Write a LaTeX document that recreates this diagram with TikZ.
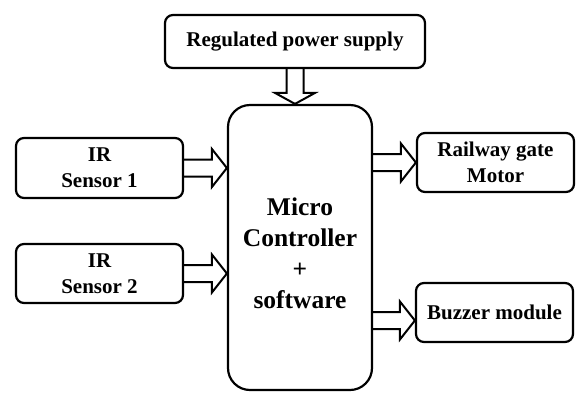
\documentclass[tikz,border=0pt]{standalone}
\usepackage{fontspec}
\setmainfont{Liberation Serif}
\usetikzlibrary{calc}
\tikzset{
  blk/.style={draw, line width=2.2pt, rounded corners=8pt, fill=white, inner sep=0pt,
    align=center, font=\fontsize{21}{26}\selectfont\bfseries},
  mcbox/.style={draw, line width=2.2pt, rounded corners=22pt, fill=white, inner sep=0pt},
  mclabel/.style={align=center, inner sep=0pt, font=\fontsize{25.5}{31}\selectfont\bfseries},
  fatarrow/.style={draw, line width=2pt, line join=miter},
}
% hollow block arrow pointing right, from #1 to the x of #2
\newcommand\rightfat[2]{%
  \draw[fatarrow] let \p1=(#1), \p2=(#2) in
    (\x1,\y1+8.5pt) -- (\x2-15pt,\y1+8.5pt) -- (\x2-15pt,\y1+19pt) -- (\x2,\y1)
    -- (\x2-15pt,\y1-19pt) -- (\x2-15pt,\y1-8.5pt) -- (\x1,\y1-8.5pt);}
% hollow block arrow pointing down, from #1 to the y of #2
\newcommand\downfat[2]{%
  \draw[fatarrow] let \p1=(#1), \p2=(#2) in
    (\x1-8.5pt,\y1) -- (\x1-8.5pt,\y2+11pt) -- (\x1-20pt,\y2+11pt) -- (\x1,\y2)
    -- (\x1+20pt,\y2+11pt) -- (\x1+8.5pt,\y2+11pt) -- (\x1+8.5pt,\y1);}
\begin{document}
\begin{tikzpicture}[x=1pt,y=-1pt]
  \useasboundingbox (0,0) rectangle (576,392);

  % blocks
  \node[blk, minimum width=260pt, minimum height=53pt] (ps) at (295,41.5) {Regulated power supply};
  \node[blk, minimum width=167pt, minimum height=60pt] (s1) at (99.5,168) {IR\\Sensor 1};
  \node[blk, minimum width=167pt, minimum height=59pt] (s2) at (99.5,273.5) {IR\\Sensor 2};
  \node[mcbox, minimum width=144pt, minimum height=285pt] (mc) at (300,247.5) {};
  \node[mclabel] (mct) at (300,253) {Micro\\Controller\\+\\software};
  \node[blk, minimum width=157pt, minimum height=59pt] (rg) at (495.5,162.5) {Railway gate\\Motor};
  \node[blk, minimum width=157pt, minimum height=59pt] (bz) at (494.5,312.5) {Buzzer module};

  % connections
  \downfat{ps.south}{mc.north}
  \rightfat{s1.east}{mc.west |- s1.east}
  \rightfat{s2.east}{mc.west |- s2.east}
  \rightfat{mc.east |- rg.west}{rg.west}
  \coordinate (bzin) at ($(bz.west)+(0,8)$);
  \rightfat{mc.east |- bzin}{bzin}
\end{tikzpicture}
\end{document}
